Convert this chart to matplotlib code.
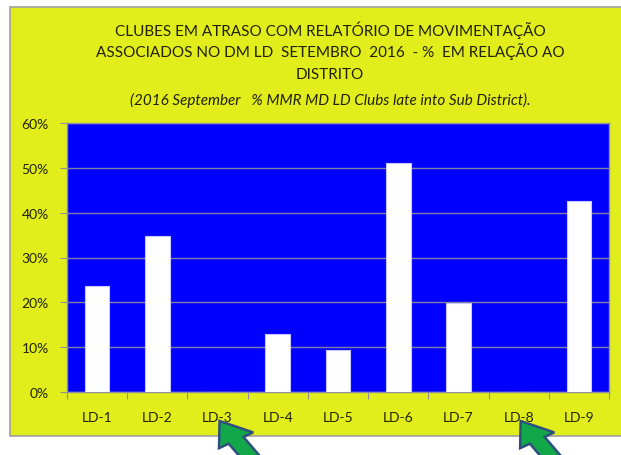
import numpy as np
import matplotlib.pyplot as plt
from matplotlib.patches import Rectangle, FancyArrow

# data
districts = ["LD-1", "LD-2", "LD-3", "LD-4", "LD-5", "LD-6", "LD-7", "LD-8", "LD-9"]
pct_late = [23.6, 34.7, 0.0, 13.0, 9.4, 51.0, 19.9, 0.0, 42.5]
yticks = [0, 10, 20, 30, 40, 50, 60]
flagged = ["LD-3", "LD-8"]

title_lines = [
    "CLUBES EM ATRASO COM RELATÓRIO DE MOVIMENTAÇÃO",
    "ASSOCIADOS NO DM LD  SETEMBRO  2016  - %  EM RELAÇÃO AO",
    "DISTRITO",
]
subtitle = "(2016 September   % MMR MD LD Clubs late into Sub District)."

plt.rcParams['font.family'] = ['Lato', 'DejaVu Sans']

W, H = 621, 456
fig = plt.figure(figsize=(W / 100, H / 100), dpi=100)
fig.patch.set_facecolor("white")

# yellow chart area
yellow = "#E2EE1C"
fig.patches.append(Rectangle((10 / W, 1 - 437 / H), 1.0, (437 - 8) / H,
                             transform=fig.transFigure, facecolor=yellow,
                             edgecolor="#A0A0A0", linewidth=1.2, zorder=0))

ax = fig.add_axes([67 / W, 1 - 393 / H, (609 - 67) / W, (393 - 124) / H])
ax.set_zorder(2)
ax.set_facecolor("#0000FF")

x = np.arange(len(districts))
ax.bar(x, pct_late, width=0.41, color="white", edgecolor="#C8C8FF",
       linewidth=0.8, zorder=3)

ax.set_xlim(-0.5, len(districts) - 0.5)
ax.set_ylim(0, 60)
ax.set_yticks(yticks)
ax.set_yticklabels([f"{v}%" for v in yticks], fontsize=10, color="#222200")
ax.yaxis.grid(True, color="#8080A0", linewidth=1.0, zorder=1)
ax.set_axisbelow(True)

ax.set_xticks(np.arange(-0.5, len(districts)), minor=False)
ax.set_xticklabels([])
ax.set_xticks(x, minor=True)
ax.set_xticklabels(districts, minor=True, fontsize=10, color="#222200")
ax.tick_params(axis="x", which="major", length=5, color="#909090", direction="out")
ax.tick_params(axis="x", which="minor", length=0, pad=14)
ax.tick_params(axis="y", length=5, color="#909090", pad=8)

for s in ax.spines.values():
    s.set_color("#9090A0")
    s.set_linewidth(1.0)

# title
ys = [30, 52, 75]
for line, yy in zip(title_lines, ys):
    fig.text(330 / W, 1 - yy / H, line, ha="center", va="center",
             fontsize=11, color="#222200")
fig.text(330 / W, 1 - 100 / H, subtitle, ha="center", va="center",
         fontsize=11, style="italic", color="#222200")

# arrows under the zero districts
for name in flagged:
    i = districts.index(name)
    xd = ax.transData.transform((i, 0))[0]
    tip_x = (xd + 2) / W
    tip_y = 1 - 422 / H
    fig.patches.append(FancyArrow(tip_x + 36 / W, tip_y - 42 / H, -36 / W, 42 / H,
                                  width=0.028, head_width=0.065, head_length=0.05,
                                  length_includes_head=True,
                                  transform=fig.transFigure,
                                  facecolor="#12A84A", edgecolor="#2F4F7F",
                                  linewidth=1.8, zorder=5))

fig.savefig("out.png", dpi=100, facecolor="white")
